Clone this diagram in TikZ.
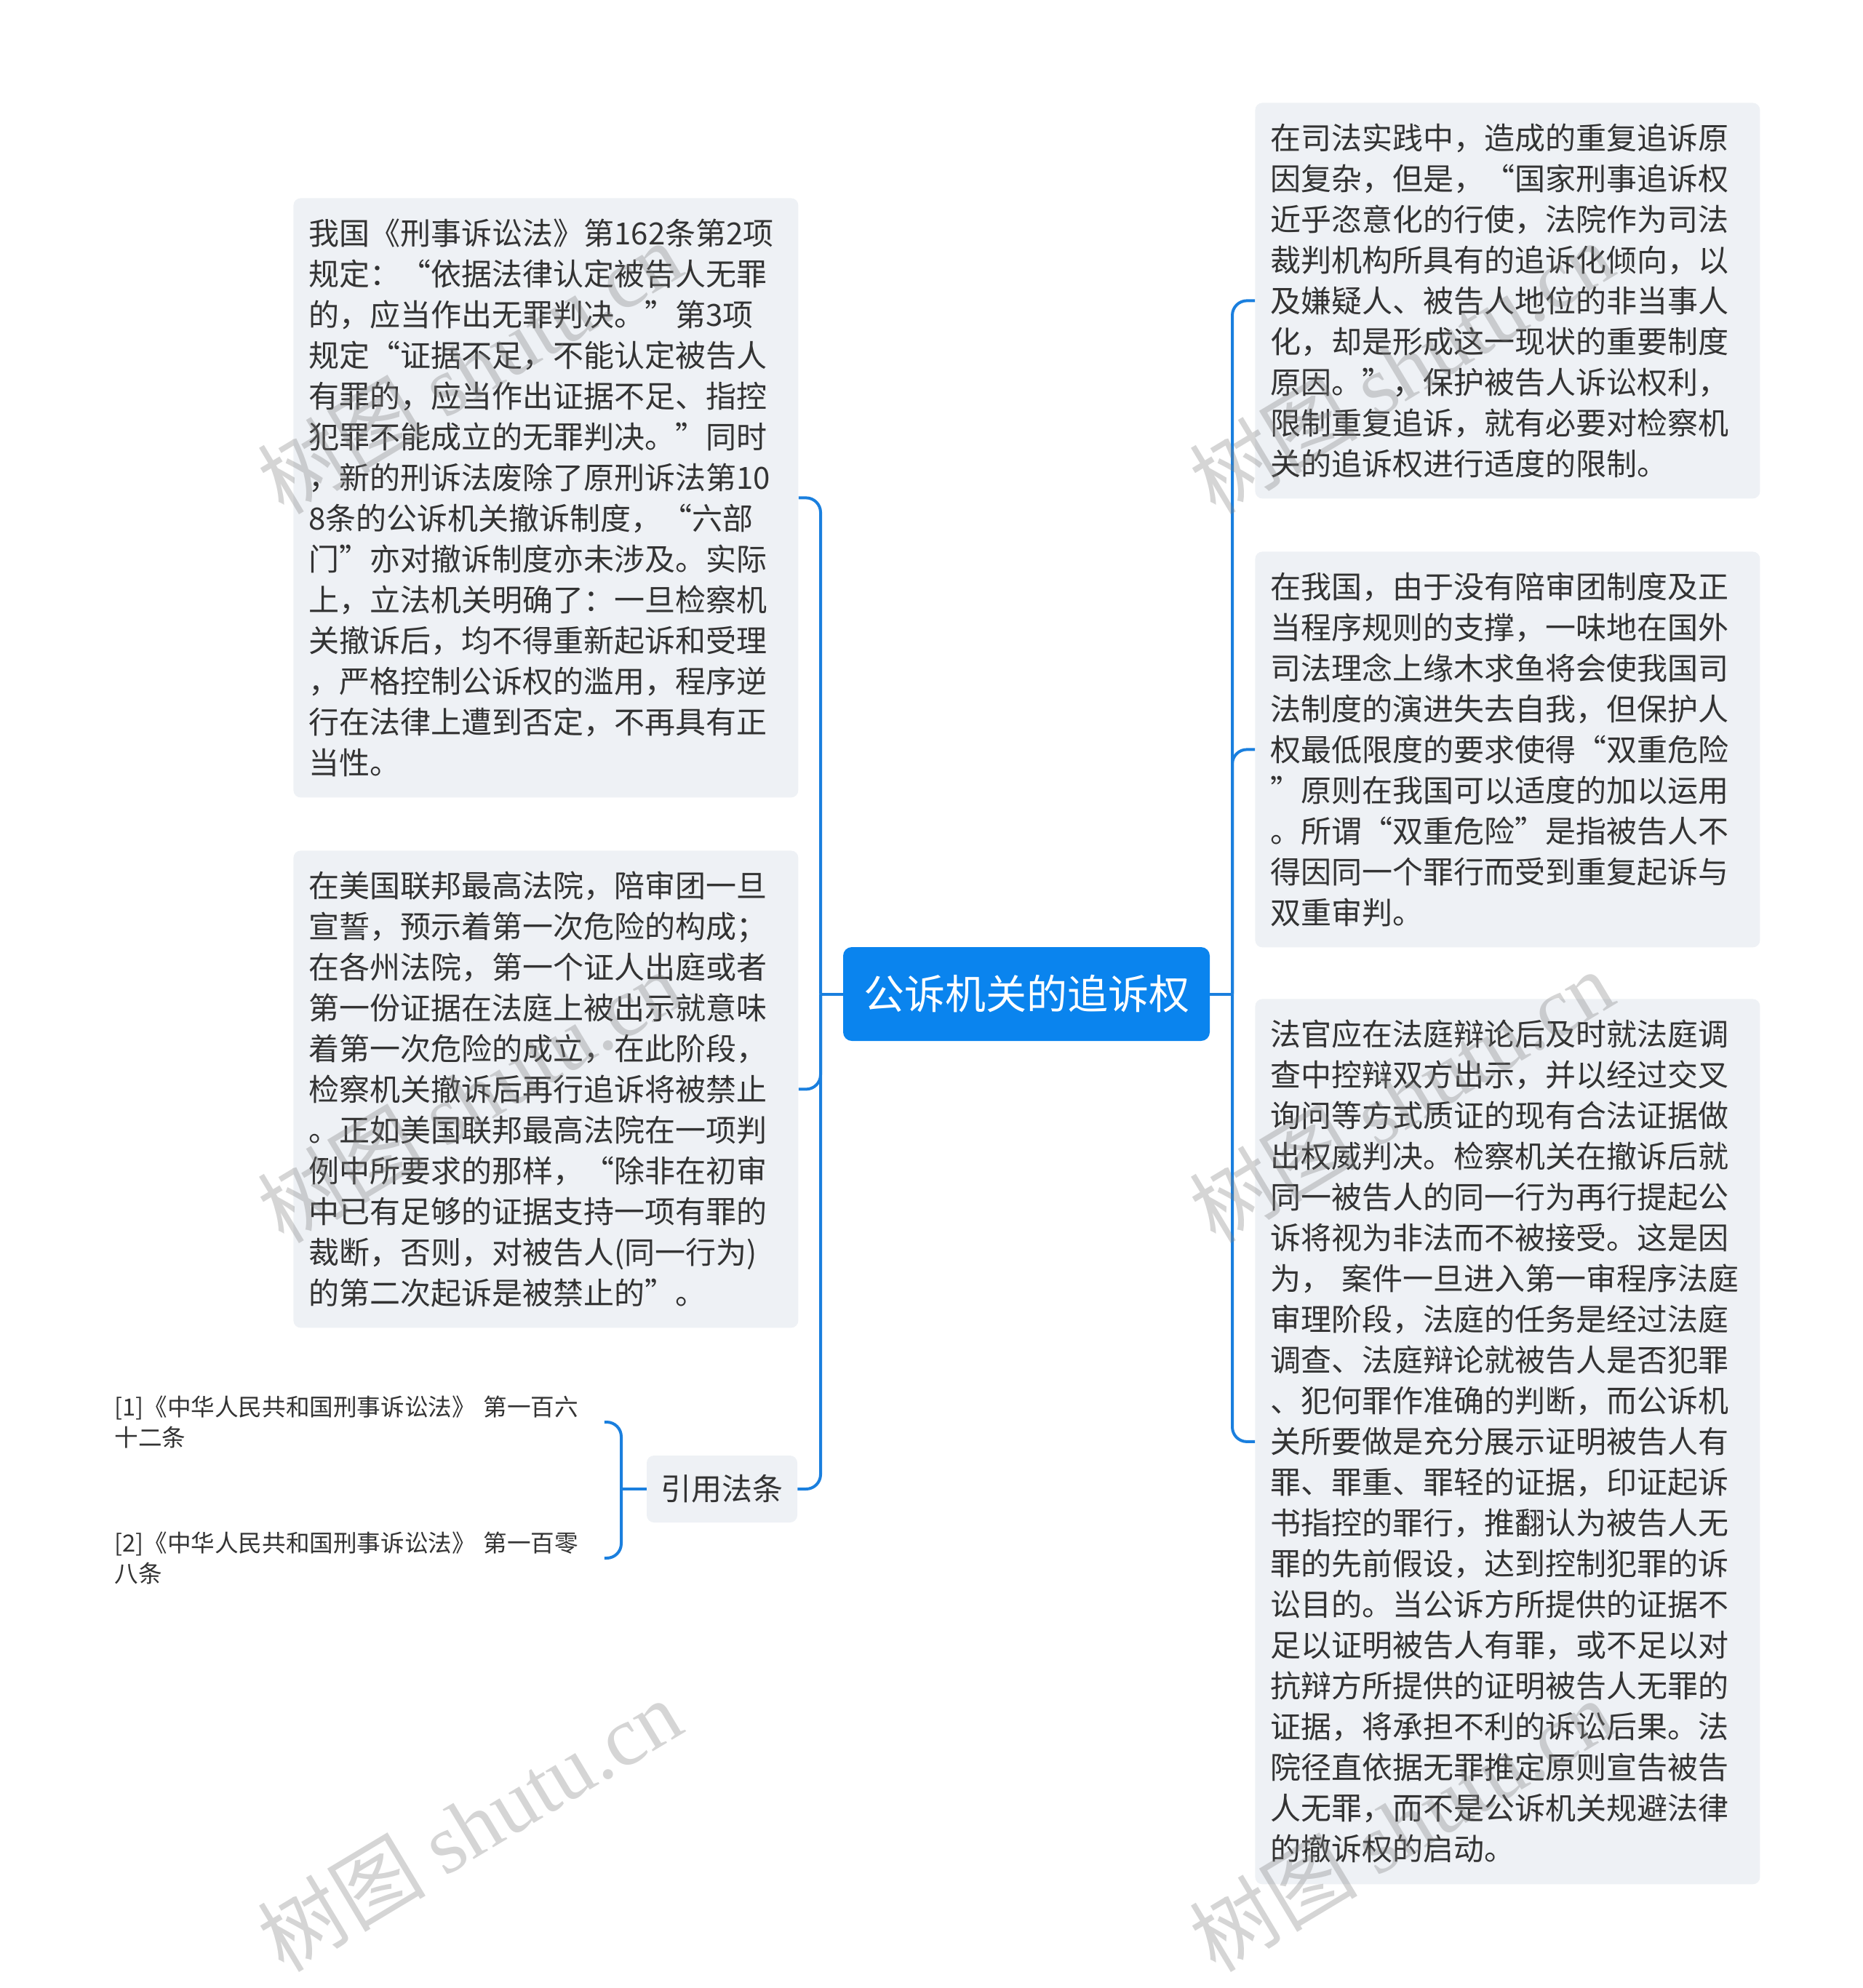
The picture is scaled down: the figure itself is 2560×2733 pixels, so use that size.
\documentclass[tikz,border=0pt]{standalone}
\usepackage{fontspec}
\setmainfont{Noto Sans CJK SC}
\newfontfamily\wmlatin{Liberation Serif}
\definecolor{boxfill}{HTML}{EEF1F5}
\definecolor{txt}{HTML}{333333}
\definecolor{mainblue}{HTML}{0A84EE}
\definecolor{linkblue}{HTML}{1A7FDE}
\begin{document}
\begin{tikzpicture}[x=0.5pt,y=-0.5pt,
  textbox/.style={rectangle, rounded corners=5pt, fill=boxfill, text=txt, anchor=north west,
    text width=326pt, inner xsep=10.5pt, inner ysep=0pt, align=left,
    font=\fontsize{21pt}{28pt}\selectfont},
  mainnode/.style={rectangle, rounded corners=6pt, fill=mainblue, text=white,
    minimum width=252pt, minimum height=64.5pt, inner sep=0pt,
    font=\fontsize{28pt}{34pt}\selectfont},
  citebox/.style={rectangle, rounded corners=5pt, fill=boxfill, text=txt,
    minimum width=103.5pt, minimum height=46pt, inner sep=0pt,
    font=\fontsize{21pt}{28pt}\selectfont},
  leaf/.style={anchor=west, text width=336.5pt, inner sep=0pt, align=left, text=txt,
    font=\fontsize{16.3pt}{21pt}\selectfont},
  conn/.style={draw=linkblue, line width=2pt, rounded corners=10pt},
  wm/.style={rotate=31, text=gray, text opacity=0.33, inner sep=0pt,
    font=\fontsize{58pt}{58pt}\selectfont}
]
\useasboundingbox (0,0) rectangle (2560,2733);

% central node
\node[mainnode] (C) at (1411,1366.5) {公诉机关的追诉权};

% left boxes
\node[textbox, minimum height=412pt] (L1) at (403,272) {我国《刑事诉讼法》第162条第2项\\
规定：“依据法律认定被告人无罪\\
的，应当作出无罪判决。”第3项\\
规定“证据不足，不能认定被告人\\
有罪的，应当作出证据不足、指控\\
犯罪不能成立的无罪判决。”同时\\
，新的刑诉法废除了原刑诉法第10\\
8条的公诉机关撤诉制度，“六部\\
门”亦对撤诉制度亦未涉及。实际\\
上，立法机关明确了：一旦检察机\\
关撤诉后，均不得重新起诉和受理\\
，严格控制公诉权的滥用，程序逆\\
行在法律上遭到否定，不再具有正\\
当性。};

\node[textbox, minimum height=328pt] (L2) at (403,1169) {在美国联邦最高法院，陪审团一旦\\
宣誓，预示着第一次危险的构成；\\
在各州法院，第一个证人出庭或者\\
第一份证据在法庭上被出示就意味\\
着第一次危险的成立，在此阶段，\\
检察机关撤诉后再行追诉将被禁止\\
。正如美国联邦最高法院在一项判\\
例中所要求的那样，“除非在初审\\
中已有足够的证据支持一项有罪的\\
裁断，否则，对被告人(同一行为)\\
的第二次起诉是被禁止的”。};

\node[citebox] (Y) at (992.5,2047) {引用法条};

\node[leaf] (Y1) at (157,1955) {[1]《中华人民共和国刑事诉讼法》 第一百六\\十二条};
\node[leaf] (Y2) at (157,2142) {[2]《中华人民共和国刑事诉讼法》 第一百零\\八条};

% right boxes
\node[textbox, minimum height=272pt] (R1) at (1725,141) {在司法实践中，造成的重复追诉原\\
因复杂，但是，“国家刑事追诉权\\
近乎恣意化的行使，法院作为司法\\
裁判机构所具有的追诉化倾向，以\\
及嫌疑人、被告人地位的非当事人\\
化，却是形成这一现状的重要制度\\
原因。”，保护被告人诉讼权利，\\
限制重复追诉，就有必要对检察机\\
关的追诉权进行适度的限制。};

\node[textbox, minimum height=272pt] (R2) at (1725,758) {在我国，由于没有陪审团制度及正\\
当程序规则的支撑，一味地在国外\\
司法理念上缘木求鱼将会使我国司\\
法制度的演进失去自我，但保护人\\
权最低限度的要求使得“双重危险\\
”原则在我国可以适度的加以运用\\
。所谓“双重危险”是指被告人不\\
得因同一个罪行而受到重复起诉与\\
双重审判。};

\node[textbox, minimum height=608.5pt] (R3) at (1725,1373) {法官应在法庭辩论后及时就法庭调\\
查中控辩双方出示，并以经过交叉\\
询问等方式质证的现有合法证据做\\
出权威判决。检察机关在撤诉后就\\
同一被告人的同一行为再行提起公\\
诉将视为非法而不被接受。这是因\\
\mbox{为， 案件一旦进入第一审程序法庭}\\
审理阶段，法庭的任务是经过法庭\\
调查、法庭辩论就被告人是否犯罪\\
、犯何罪作准确的判断，而公诉机\\
关所要做是充分展示证明被告人有\\
罪、罪重、罪轻的证据，印证起诉\\
书指控的罪行，推翻认为被告人无\\
罪的先前假设，达到控制犯罪的诉\\
讼目的。当公诉方所提供的证据不\\
足以证明被告人有罪，或不足以对\\
抗辩方所提供的证明被告人无罪的\\
证据，将承担不利的诉讼后果。法\\
院径直依据无罪推定原则宣告被告\\
人无罪，而不是公诉机关规避法律\\
的撤诉权的启动。};

% connectors
\coordinate (jl) at (1128,1366.5);
\coordinate (jr) at (1694,1366.5);
\coordinate (jc) at (854,2047);
\draw[conn] (C.west) -- (jl);
\draw[conn] (jl) |- (L1.east);
\draw[conn] (jl) |- (L2.east);
\draw[conn] (jl) |- (Y.east);
\draw[conn] (C.east) -- (jr);
\draw[conn] (jr) |- (R1.west);
\draw[conn] (jr) |- (R2.west);
\draw[conn] (jr) |- (R3.west);
\draw[conn] (Y.west) -- (jc);
\draw[conn] (jc) |- (Y1.east);
\draw[conn] (jc) |- (Y2.east);

% watermarks
\node[wm] (w1) at (645,505) {树图 {\wmlatin shutu.cn}};
\node[wm] (w2) at (645,1507) {树图 {\wmlatin shutu.cn}};
\node[wm] (w3) at (645,2509) {树图 {\wmlatin shutu.cn}};
\node[wm] (w4) at (1926,505) {树图 {\wmlatin shutu.cn}};
\node[wm] (w5) at (1926,1507) {树图 {\wmlatin shutu.cn}};
\node[wm] (w6) at (1926,2509) {树图 {\wmlatin shutu.cn}};
\end{tikzpicture}
\end{document}
